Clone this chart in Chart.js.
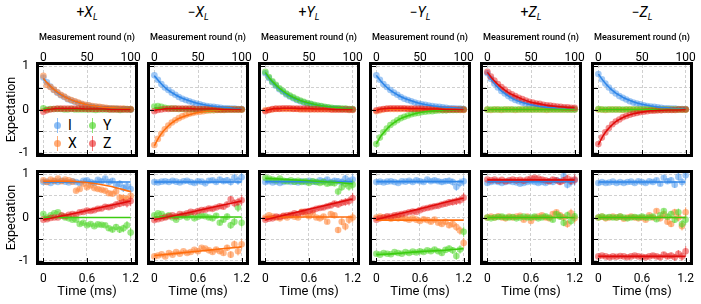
<!DOCTYPE html>
<html>
<head>
<meta charset="utf-8">
<script src="https://cdn.jsdelivr.net/npm/chart.js@4.4.0/dist/chart.umd.min.js"></script>
<style>
    body { margin: 0; width: 701px; height: 304px; position: relative; overflow: hidden; background: #fff; font-family: Roboto, sans-serif; }
    canvas { position: absolute; }
    .ttl { position: absolute; top: 3px; width: 96px; text-align: center; font-size: 14px; line-height: 18px; color: #000; }
    .ttl sub { font-size: 9px; vertical-align: -3px; line-height: 0; }
    .lg { position: absolute; font-size: 14px; line-height: 16px; color: #000; white-space: nowrap; }
    .mk { display: inline-block; position: relative; width: 7px; height: 7px; border-radius: 50%; background: var(--c); margin-right: 7px; vertical-align: 1px; }
    .mk::before { content: ''; position: absolute; left: 3px; top: -4px; width: 1px; height: 15px; background: var(--c); }
</style>
</head>
<body>
<div class="lg" style="left:54px;top:117px"><span class="mk" style="--c:rgba(66,146,236,0.6)"></span>I</div>
<div class="lg" style="left:89px;top:117px"><span class="mk" style="--c:rgba(76,214,38,0.65)"></span>Y</div>
<div class="lg" style="left:54px;top:135px"><span class="mk" style="--c:rgba(255,128,48,0.65)"></span>X</div>
<div class="lg" style="left:89px;top:135px"><span class="mk" style="--c:rgba(232,32,32,0.6)"></span>Z</div>
<script>
// 軸の値
const roundN = [0,4,8,12,16,20,24,28,32,36,40,44,48,52,56,60,64,68,72,76,80,84,88,92,96,100];
const roundFitN = [0,5,10,15,20,25,30,40,50,60,70,80,90,100];
const timeMs = [0,0.05,0.1,0.15,0.2,0.25,0.3,0.35,0.4,0.45,0.5,0.55,0.6,0.65,0.7,0.75,0.8,0.85,0.9,0.95,1.0,1.05,1.1,1.15,1.2];
const timeFitMs = [0,0.3,0.6,0.9,1.2];
const roundTicks = [0, 50, 100];
const timeTicks = [0, 0.6, 1.2];
const expTicks = [-1, -0.5, 0, 0.5, 1];
const stateSigns = ['+', '−', '+', '−', '+', '−'];
const stateAxes = ['X', 'X', 'Y', 'Y', 'Z', 'Z'];
const errTime = [0.03,0.03,0.03,0.03,0.03,0.03,0.03,0.03,0.03,0.04,0.04,0.04,0.04,0.04,0.04,0.05,0.05,0.05,0.06,0.06,0.07,0.08,0.09,0.10,0.12];

// 上段: 測定ラウンド
const decayPX = {
    I: [0.74,0.63,0.53,0.45,0.39,0.33,0.29,0.24,0.21,0.18,0.15,0.12,0.10,0.09,0.07,0.06,0.05,0.04,0.03,0.03,0.02,0.02,0.01,0.01,0.01,0.00],
    X: [0.78,0.57,0.52,0.46,0.40,0.34,0.30,0.25,0.22,0.19,0.16,0.13,0.11,0.10,0.08,0.07,0.06,0.05,0.04,0.03,0.03,0.02,0.02,0.02,0.01,0.01],
    Y: [0.03,0.00,0.01,0.01,0.01,0.01,0.00,0.00,0.01,0.00,0.00,0.00,0.00,0.00,0.00,-0.01,0.00,0.00,0.00,0.00,0.00,0.00,-0.01,0.00,0.00,0.00],
    Z: [-0.05,-0.02,0.00,0.01,0.02,0.02,0.02,0.02,0.02,0.02,0.02,0.02,0.02,0.01,0.01,0.01,0.01,0.01,0.01,0.00,0.00,0.00,0.00,0.00,0.00,0.00]
};
const decayFitPX = {
    I: [0.72,0.60,0.50,0.41,0.34,0.29,0.24,0.16,0.11,0.08,0.05,0.04,0.03,0.02],
    X: [0.72,0.60,0.50,0.42,0.35,0.29,0.24,0.17,0.11,0.08,0.05,0.04,0.03,0.02],
    Y: [0.01,0.01,0.01,0.01,0.01,0.01,0.01,0.00,0.00,0.00,0.00,0.00,0.00,0.00],
    Z: [-0.03,0.00,0.01,0.02,0.02,0.02,0.02,0.02,0.01,0.01,0.01,0.00,0.00,0.00]
};
const decayMX = {
    I: [0.79,0.69,0.59,0.51,0.45,0.39,0.34,0.29,0.25,0.22,0.19,0.16,0.14,0.12,0.10,0.08,0.07,0.06,0.05,0.04,0.03,0.03,0.02,0.02,0.01,0.01],
    X: [-0.82,-0.68,-0.56,-0.46,-0.37,-0.30,-0.25,-0.20,-0.16,-0.13,-0.10,-0.08,-0.06,-0.05,-0.04,-0.03,-0.02,-0.02,-0.01,-0.01,-0.01,0.00,0.00,0.00,0.00,0.00],
    Y: [0.07,0.08,0.06,0.04,0.03,0.02,0.02,0.01,0.01,0.01,0.01,0.01,0.00,0.00,0.00,0.00,0.00,0.00,0.00,0.00,0.00,0.00,0.00,0.00,0.00,0.00],
    Z: [-0.04,-0.01,0.00,0.01,0.01,0.02,0.02,0.02,0.02,0.02,0.02,0.02,0.01,0.01,0.01,0.01,0.01,0.01,0.00,0.00,0.00,0.00,0.00,0.00,0.00,0.00]
};
const decayFitMX = {
    I: [0.78,0.66,0.55,0.46,0.39,0.33,0.28,0.20,0.14,0.10,0.07,0.05,0.03,0.02],
    X: [-0.84,-0.65,-0.51,-0.40,-0.31,-0.24,-0.19,-0.12,-0.07,-0.04,-0.02,-0.01,-0.01,0.00],
    Y: [0.04,0.03,0.03,0.02,0.02,0.01,0.01,0.01,0.01,0.00,0.00,0.00,0.00,0.00],
    Z: [-0.03,0.00,0.01,0.02,0.02,0.02,0.02,0.02,0.01,0.01,0.01,0.00,0.00,0.00]
};
const decayPY = {
    I: [0.84,0.73,0.63,0.55,0.47,0.41,0.35,0.30,0.26,0.22,0.19,0.16,0.14,0.12,0.10,0.08,0.07,0.05,0.04,0.03,0.03,0.02,0.01,0.01,0.00,0.00],
    X: [-0.02,-0.01,0.00,0.01,0.01,0.01,0.01,0.01,0.01,0.01,0.00,0.00,0.00,0.00,0.00,0.00,0.00,0.00,0.00,0.00,0.00,0.00,0.00,0.00,-0.01,-0.01],
    Y: [0.87,0.75,0.65,0.57,0.49,0.43,0.37,0.32,0.28,0.24,0.21,0.18,0.15,0.13,0.11,0.09,0.08,0.06,0.05,0.04,0.03,0.03,0.02,0.02,0.01,0.01],
    Z: [-0.04,-0.01,0.01,0.02,0.02,0.03,0.03,0.03,0.02,0.02,0.02,0.02,0.02,0.01,0.01,0.01,0.01,0.01,0.01,0.00,0.00,0.00,0.00,0.00,0.00,0.00]
};
const decayFitPY = {
    I: [0.84,0.70,0.59,0.49,0.41,0.34,0.29,0.20,0.14,0.10,0.07,0.05,0.03,0.02],
    X: [-0.01,0.00,0.01,0.01,0.01,0.01,0.01,0.00,0.00,0.00,0.00,0.00,0.00,0.00],
    Y: [0.86,0.72,0.61,0.51,0.43,0.36,0.30,0.21,0.15,0.10,0.07,0.05,0.03,0.02],
    Z: [-0.03,0.00,0.02,0.02,0.03,0.03,0.03,0.02,0.02,0.01,0.01,0.00,0.00,0.00]
};
const decayMY = {
    I: [0.79,0.69,0.59,0.52,0.45,0.39,0.34,0.29,0.25,0.22,0.19,0.16,0.14,0.12,0.11,0.09,0.08,0.07,0.06,0.05,0.04,0.03,0.03,0.02,0.02,0.01],
    X: [-0.04,-0.02,0.00,0.01,0.01,0.01,0.01,0.01,0.01,0.01,0.01,0.00,0.00,0.00,0.00,0.00,0.00,0.00,0.00,0.00,0.00,0.00,0.00,0.00,-0.01,-0.01],
    Y: [-0.80,-0.65,-0.53,-0.44,-0.36,-0.30,-0.25,-0.20,-0.17,-0.14,-0.11,-0.09,-0.08,-0.06,-0.05,-0.04,-0.04,-0.03,-0.02,-0.02,-0.02,-0.01,-0.01,-0.01,0.00,0.00],
    Z: [-0.02,0.00,0.01,0.02,0.03,0.03,0.03,0.03,0.03,0.02,0.02,0.02,0.02,0.02,0.01,0.01,0.01,0.01,0.01,0.00,0.00,0.00,0.00,0.00,0.00,0.00]
};
const decayFitMY = {
    I: [0.79,0.66,0.55,0.46,0.39,0.33,0.28,0.20,0.14,0.10,0.07,0.05,0.04,0.02],
    X: [-0.02,0.00,0.01,0.01,0.01,0.01,0.01,0.00,0.00,0.00,0.00,0.00,0.00,0.00],
    Y: [-0.80,-0.62,-0.50,-0.39,-0.31,-0.24,-0.19,-0.12,-0.07,-0.04,-0.03,-0.02,-0.01,0.00],
    Z: [-0.02,0.01,0.02,0.03,0.03,0.03,0.03,0.02,0.02,0.01,0.01,0.00,0.00,0.00]
};
const decayPZ = {
    I: [0.84,0.71,0.60,0.51,0.43,0.37,0.31,0.26,0.22,0.19,0.16,0.13,0.11,0.09,0.08,0.07,0.06,0.05,0.04,0.03,0.03,0.02,0.02,0.01,0.01,0.01],
    X: [0.00,-0.01,0.00,0.00,-0.01,0.00,0.00,0.00,-0.01,0.00,0.00,0.00,0.00,0.00,0.00,0.00,0.00,-0.01,0.00,0.00,0.00,0.00,0.00,0.00,0.00,0.00],
    Y: [0.00,0.00,0.00,0.00,0.00,0.00,0.00,0.00,0.00,0.00,0.00,0.00,0.00,0.00,0.00,0.00,0.00,0.00,0.00,0.00,0.00,0.00,0.00,0.00,0.00,0.00],
    Z: [0.87,0.76,0.67,0.59,0.52,0.46,0.40,0.35,0.31,0.27,0.24,0.21,0.18,0.16,0.14,0.13,0.11,0.10,0.09,0.08,0.07,0.06,0.05,0.05,0.04,0.04]
};
const decayFitPZ = {
    I: [0.84,0.68,0.56,0.45,0.37,0.30,0.24,0.16,0.11,0.07,0.05,0.03,0.02,0.01],
    X: [0.00,0.00,0.00,0.00,0.00,0.00,0.00,0.00,0.00,0.00,0.00,0.00,0.00,0.00],
    Y: [0.00,0.00,0.00,0.00,0.00,0.00,0.00,0.00,0.00,0.00,0.00,0.00,0.00,0.00],
    Z: [0.86,0.73,0.62,0.53,0.45,0.38,0.33,0.24,0.17,0.13,0.09,0.07,0.05,0.04]
};
const decayMZ = {
    I: [0.82,0.70,0.60,0.51,0.43,0.37,0.31,0.27,0.23,0.19,0.16,0.14,0.12,0.10,0.08,0.07,0.06,0.05,0.04,0.03,0.03,0.02,0.02,0.01,0.01,0.01],
    X: [0.00,0.00,-0.01,0.00,0.00,0.00,0.00,-0.01,0.00,0.00,0.00,0.00,0.00,0.00,0.00,0.00,0.00,0.00,0.00,0.00,0.00,0.00,0.00,0.00,0.00,0.00],
    Y: [0.01,0.00,0.00,0.00,0.00,0.00,0.00,0.00,0.00,0.00,0.00,0.00,0.00,0.00,0.00,0.00,0.00,0.00,0.00,0.00,0.00,0.00,0.00,0.00,0.00,0.00],
    Z: [-0.80,-0.65,-0.53,-0.43,-0.34,-0.28,-0.23,-0.18,-0.15,-0.12,-0.10,-0.08,-0.06,-0.05,-0.04,-0.03,-0.03,-0.02,-0.02,-0.01,-0.01,-0.01,-0.01,0.00,0.00,0.00]
};
const decayFitMZ = {
    I: [0.82,0.68,0.56,0.46,0.38,0.32,0.26,0.18,0.12,0.08,0.05,0.04,0.02,0.02],
    X: [0.00,0.00,0.00,0.00,0.00,0.00,0.00,0.00,0.00,0.00,0.00,0.00,0.00,0.00],
    Y: [0.00,0.00,0.00,0.00,0.00,0.00,0.00,0.00,0.00,0.00,0.00,0.00,0.00,0.00],
    Z: [-0.82,-0.62,-0.48,-0.37,-0.28,-0.22,-0.17,-0.10,-0.06,-0.03,-0.02,-0.01,-0.01,0.00]
};

// 下段: 時間 (ms)
const timePX = {
    I: [0.82,0.83,0.80,0.84,0.82,0.85,0.83,0.81,0.84,0.82,0.80,0.85,0.86,0.82,0.80,0.87,0.84,0.90,0.82,0.85,0.74,0.78,0.68,0.72,0.66],
    X: [0.86,0.82,0.88,0.85,0.90,0.84,0.88,0.86,0.83,0.62,0.66,0.78,0.70,0.74,0.68,0.66,0.64,0.62,0.56,0.55,0.60,0.46,0.45,0.42,0.50],
    Y: [0.08,0.00,0.05,0.10,0.12,0.04,0.00,-0.02,-0.05,-0.05,-0.15,-0.12,-0.18,-0.15,-0.20,-0.16,-0.17,-0.18,-0.25,-0.28,-0.22,-0.28,-0.25,-0.18,-0.35],
    Z: [-0.05,-0.04,-0.01,0.00,0.00,0.05,0.03,0.06,0.08,0.07,0.12,0.13,0.16,0.15,0.17,0.20,0.21,0.25,0.24,0.26,0.30,0.32,0.35,0.33,0.38]
};
const timeFitPX = {
    I: [0.82,0.82,0.82,0.82,0.82],
    X: [0.84,0.84,0.81,0.73,0.60],
    Y: [0.00,0.00,0.00,0.00,0.00],
    Z: [-0.05,0.05,0.16,0.27,0.38]
};
const timeMX = {
    I: [0.82,0.81,0.83,0.84,0.82,0.85,0.83,0.81,0.84,0.85,0.82,0.80,0.84,0.83,0.79,0.85,0.86,0.82,0.88,0.84,0.86,0.82,0.92,0.85,0.93],
    X: [-0.90,-0.88,-0.85,-0.90,-0.82,-0.86,-0.80,-0.84,-0.78,-0.82,-0.80,-0.75,-0.78,-0.70,-0.72,-0.76,-0.80,-0.74,-0.78,-0.82,-0.70,-0.86,-0.62,-0.78,-0.62],
    Y: [0.05,0.10,0.08,0.02,0.05,0.00,-0.05,0.02,0.04,0.00,0.05,-0.02,0.02,0.04,0.03,0.00,-0.02,0.04,-0.12,-0.05,0.02,-0.18,-0.10,0.23,-0.12],
    Z: [-0.06,-0.04,-0.02,0.00,0.03,0.05,0.03,0.08,0.07,0.10,0.13,0.12,0.15,0.17,0.18,0.21,0.20,0.23,0.26,0.25,0.30,0.42,0.33,0.36,0.40]
};
const timeFitMX = {
    I: [0.82,0.82,0.82,0.82,0.82],
    X: [-0.88,-0.83,-0.78,-0.73,-0.68],
    Y: [0.01,0.01,0.01,0.01,0.01],
    Z: [-0.05,0.05,0.16,0.27,0.38]
};
const timePY = {
    I: [0.82,0.84,0.81,0.83,0.80,0.82,0.84,0.82,0.83,0.81,0.84,0.82,0.85,0.83,0.82,0.86,0.84,0.88,0.82,0.85,0.84,0.82,0.90,0.84,0.88],
    X: [0.00,0.05,0.02,0.00,-0.02,0.03,0.00,0.05,0.02,0.00,0.13,0.08,0.03,0.10,0.00,-0.02,0.02,-0.10,0.08,0.05,-0.29,-0.10,-0.21,-0.05,0.00],
    Y: [0.92,0.90,0.88,0.86,0.90,0.85,0.84,0.86,0.83,0.85,0.82,0.84,0.80,0.84,0.82,0.80,0.82,0.78,0.80,0.79,0.60,0.70,0.78,0.72,0.76],
    Z: [-0.05,-0.03,-0.02,0.02,0.01,0.04,0.05,0.06,0.10,0.08,0.12,0.14,0.15,0.17,0.20,0.22,0.23,0.26,0.28,0.32,0.30,0.34,0.36,0.38,0.45]
};
const timeFitPY = {
    I: [0.83,0.83,0.83,0.83,0.83],
    X: [0.01,0.01,0.01,0.01,0.01],
    Y: [0.91,0.88,0.85,0.82,0.78],
    Z: [-0.05,0.07,0.19,0.31,0.43]
};
const timeMY = {
    I: [0.82,0.83,0.81,0.83,0.84,0.82,0.80,0.84,0.83,0.85,0.82,0.86,0.84,0.82,0.88,0.84,0.86,0.84,0.82,0.84,0.85,0.82,0.71,0.80,0.84],
    X: [0.00,0.02,0.00,0.00,-0.03,0.02,-0.02,0.00,-0.03,-0.05,-0.02,-0.05,-0.08,-0.04,-0.06,-0.10,-0.05,-0.12,-0.15,-0.10,-0.18,-0.15,-0.22,-0.30,-0.59],
    Y: [-0.84,-0.86,-0.82,-0.84,-0.85,-0.80,-0.82,-0.84,-0.80,-0.82,-0.79,-0.81,-0.78,-0.80,-0.76,-0.78,-0.74,-0.78,-0.82,-0.75,-0.72,-0.76,-0.89,-0.74,-0.33],
    Z: [-0.05,-0.02,0.00,0.03,0.02,0.05,0.06,0.08,0.10,0.12,0.14,0.13,0.17,0.20,0.22,0.24,0.26,0.27,0.30,0.32,0.35,0.36,0.38,0.40,0.46]
};
const timeFitMY = {
    I: [0.83,0.83,0.83,0.83,0.83],
    X: [-0.06,-0.06,-0.06,-0.06,-0.06],
    Y: [-0.86,-0.83,-0.79,-0.76,-0.72],
    Z: [-0.05,0.08,0.20,0.33,0.45]
};
const timePZ = {
    I: [0.80,0.82,0.84,0.82,0.80,0.82,0.84,0.82,0.81,0.78,0.80,0.82,0.84,0.82,0.80,0.82,0.80,0.84,0.82,0.86,0.84,0.96,0.76,0.82,0.86],
    X: [0.00,0.02,0.00,0.03,0.00,-0.02,0.02,0.00,0.02,0.04,-0.05,0.02,-0.08,0.00,0.02,0.05,0.00,-0.02,0.08,0.12,0.05,0.00,-0.15,0.10,-0.02],
    Y: [0.00,-0.02,0.00,0.01,0.02,0.00,0.00,0.01,-0.02,0.00,0.02,0.00,0.00,0.02,-0.02,0.00,0.03,0.00,-0.05,0.08,0.02,-0.12,0.05,-0.08,0.03],
    Z: [0.88,0.86,0.88,0.85,0.87,0.84,0.86,0.88,0.86,0.87,0.85,0.88,0.90,0.92,0.90,0.88,0.86,0.84,0.88,0.86,0.82,0.86,0.90,0.85,0.88]
};
const timeFitPZ = {
    I: [0.83,0.83,0.83,0.83,0.83],
    X: [0.00,0.00,0.00,0.00,0.00],
    Y: [0.00,0.00,0.00,0.00,0.00],
    Z: [0.87,0.87,0.87,0.87,0.87]
};
const timeMZ = {
    I: [0.80,0.82,0.80,0.81,0.83,0.80,0.82,0.80,0.82,0.83,0.80,0.84,0.82,0.80,0.84,0.82,0.86,0.78,0.92,0.84,0.86,0.76,0.94,0.82,0.98],
    X: [0.00,0.02,-0.02,0.00,0.02,0.00,0.02,-0.03,0.00,0.02,0.00,-0.02,0.00,-0.05,0.05,0.00,0.15,-0.02,0.08,-0.10,-0.15,0.12,0.00,-0.20,0.12],
    Y: [0.00,0.02,0.00,0.01,0.00,0.00,0.02,0.00,-0.02,0.00,0.01,0.00,0.02,0.00,0.00,0.02,-0.04,0.05,0.15,0.02,0.08,-0.05,0.12,-0.15,-0.05],
    Z: [-0.90,-0.88,-0.90,-0.92,-0.90,-0.91,-0.89,-0.90,-0.92,-0.90,-0.88,-0.90,-0.91,-0.92,-0.90,-0.88,-0.90,-0.92,-0.86,-0.90,-0.88,-0.92,-0.84,-0.90,-0.78]
};
const timeFitMZ = {
    I: [0.82,0.82,0.82,0.82,0.82],
    X: [0.00,0.00,0.00,0.00,0.00],
    Y: [0.00,0.00,0.00,0.00,0.00],
    Z: [-0.90,-0.90,-0.90,-0.90,-0.90]
};

const decayPanels = [decayPX, decayMX, decayPY, decayMY, decayPZ, decayMZ];
const decayFitPanels = [decayFitPX, decayFitMX, decayFitPY, decayFitMY, decayFitPZ, decayFitMZ];
const timePanels = [timePX, timeMX, timePY, timeMY, timePZ, timeMZ];
const timeFitPanels = [timeFitPX, timeFitMX, timeFitPY, timeFitMY, timeFitPZ, timeFitMZ];

// 色
const SERIES = ['I', 'X', 'Y', 'Z'];
const pointColors = { I: 'rgba(66,146,236,0.5)', X: 'rgba(255,128,48,0.55)', Y: 'rgba(76,214,38,0.55)', Z: 'rgba(232,32,32,0.5)' };
const lineColors = { I: '#2f86e8', X: '#ff6e0e', Y: '#3ccc10', Z: '#e00b0b' };

// エラーバー
const errorBars = {
    id: 'errorBars',
    beforeDatasetDraw(chart, args) {
        const ds = chart.data.datasets[args.index];
        if (!ds.errs) return;
        const { ctx, chartArea: a } = chart;
        const ys = chart.scales.y;
        ctx.save();
        ctx.beginPath();
        ctx.rect(a.left, a.top, a.right - a.left, a.bottom - a.top);
        ctx.clip();
        ctx.strokeStyle = ds.pointBackgroundColor;
        ctx.lineWidth = 1.2;
        ctx.beginPath();
        args.meta.data.forEach((pt, j) => {
            const v = ds.data[j].y;
            const e = ds.errs[j];
            ctx.moveTo(pt.x, ys.getPixelForValue(v - e));
            ctx.lineTo(pt.x, ys.getPixelForValue(v + e));
        });
        ctx.stroke();
        ctx.restore();
    }
};

// 太枠と内向きの目盛り
const framePlugin = {
    id: 'frame',
    afterDatasetsDraw(chart) {
        const { ctx, chartArea: a, scales: { x, y } } = chart;
        ctx.save();
        ctx.strokeStyle = '#000';
        ctx.lineWidth = 1;
        ctx.beginPath();
        y.ticks.forEach(t => {
            const py = Math.round(y.getPixelForValue(t.value)) + 0.5;
            ctx.moveTo(a.left, py);
            ctx.lineTo(a.left + 4, py);
        });
        x.ticks.forEach(t => {
            const px = Math.round(x.getPixelForValue(t.value)) + 0.5;
            ctx.moveTo(px, a.bottom);
            ctx.lineTo(px, a.bottom - 4);
        });
        ctx.stroke();
        ctx.lineWidth = 3;
        ctx.strokeRect(a.left - 1.5, a.top - 1.5, a.right - a.left + 3, a.bottom - a.top + 3);
        ctx.restore();
    }
};

// パネル配置
const PLOT_W = 96, PLOT_H = 89, PITCH = 111, LEFT0 = 39;
const TOP_ROW_Y = 65, BOTTOM_ROW_Y = 173;

// 目盛りラベルのはみ出しでプロット領域が縮まないようにする
function noScalePadding(s) {
    s.paddingLeft = 0;
    s.paddingRight = 0;
    s.paddingTop = 0;
    s.paddingBottom = 0;
}

function buildPanel(col, isTop) {
    const pts = isTop ? decayPanels[col] : timePanels[col];
    const fits = isTop ? decayFitPanels[col] : timeFitPanels[col];
    const xs = isTop ? roundN : timeMs;
    const fxs = isTop ? roundFitN : timeFitMs;
    const L = col === 0 ? 39 : 6;
    const R = 7;
    const xH = isTop ? 45 : 42;
    const padT = isTop ? 0 : 6;
    const padB = isTop ? 6 : 0;

    const canvas = document.createElement('canvas');
    canvas.width = L + PLOT_W + R;
    canvas.height = padT + PLOT_H + padB + xH;
    canvas.style.left = (LEFT0 + PITCH * col - L) + 'px';
    canvas.style.top = (isTop ? TOP_ROW_Y - xH : BOTTOM_ROW_Y - padT) + 'px';
    document.body.appendChild(canvas);

    const datasets = [];
    SERIES.forEach((k, i) => {
        datasets.push({
            data: xs.map((x, j) => ({ x: x, y: pts[k][j] })),
            showLine: false,
            pointRadius: 3.3,
            pointBackgroundColor: pointColors[k],
            pointBorderWidth: 0,
            errs: isTop ? null : errTime,
            order: 20 - i
        });
    });
    SERIES.forEach((k, i) => {
        datasets.push({
            data: fxs.map((x, j) => ({ x: x, y: fits[k][j] })),
            borderColor: lineColors[k],
            borderWidth: 1.6,
            pointRadius: 0,
            cubicInterpolationMode: 'monotone',
            order: 10 - i
        });
    });

    const tickFont = { family: 'Roboto', size: 12 };
    new Chart(canvas, {
        type: 'line',
        data: { datasets: datasets },
        options: {
            responsive: false,
            animation: false,
            events: [],
            layout: { padding: { left: 0, right: R, top: padT, bottom: padB } },
            plugins: { legend: { display: false }, tooltip: { enabled: false } },
            scales: {
                x: {
                    type: 'linear',
                    position: isTop ? 'top' : 'bottom',
                    min: isTop ? -5 : -0.06,
                    max: isTop ? 105 : 1.26,
                    afterFit: s => { s.height = xH; noScalePadding(s); },
                    afterBuildTicks: s => { s.ticks = (isTop ? roundTicks : timeTicks).map(v => ({ value: v })); },
                    ticks: { color: '#000', font: tickFont, padding: isTop ? 0 : 10, maxRotation: 0, autoSkip: false, callback: v => String(v) },
                    title: isTop
                        ? { display: true, text: 'Measurement round (n)', color: '#000', font: { family: 'Roboto', size: 9.5, weight: '500' }, padding: { top: 12, bottom: 0 } }
                        : { display: true, text: 'Time (ms)', color: '#000', font: { family: 'Roboto', size: 13 }, padding: { top: 0, bottom: 4 } },
                    grid: { color: '#c4c4c4', lineWidth: 0.8, drawTicks: false },
                    border: { display: false, dash: [3, 2] }
                },
                y: {
                    min: -1.03,
                    max: 1.03,
                    afterFit: s => { s.width = L; noScalePadding(s); },
                    afterBuildTicks: s => { s.ticks = expTicks.map(v => ({ value: v })); },
                    ticks: { display: col === 0, color: '#000', font: tickFont, padding: 10, callback: v => Number.isInteger(v) ? String(v) : '' },
                    title: { display: col === 0, text: 'Expectation', color: '#000', font: { family: 'Roboto', size: 12.5 }, padding: { top: 4, bottom: 0 } },
                    grid: { color: '#c4c4c4', lineWidth: 0.8, drawTicks: false },
                    border: { display: false, dash: [3, 2] }
                }
            }
        },
        plugins: [errorBars, framePlugin]
    });
}

// 列タイトル
stateSigns.forEach((s, col) => {
    const d = document.createElement('div');
    d.className = 'ttl';
    d.style.left = (LEFT0 + PITCH * col) + 'px';
    d.innerHTML = s + '<i>' + stateAxes[col] + '<sub>L</sub></i>';
    document.body.appendChild(d);
});

for (let col = 0; col < 6; col++) {
    buildPanel(col, true);
    buildPanel(col, false);
}
</script>
</body>
</html>
